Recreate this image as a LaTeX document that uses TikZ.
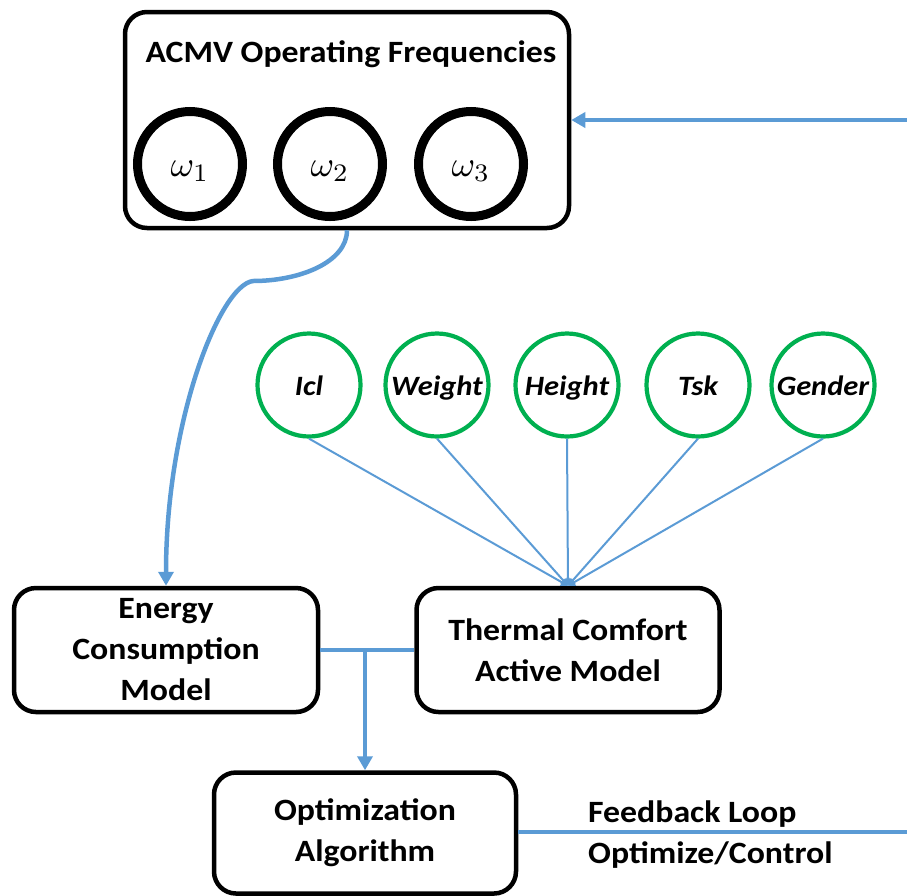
\documentclass[tikz,border=0pt]{standalone}
\usepackage[no-math]{fontspec}
\setmainfont{Carlito}[FakeStretch=1.09]
\usetikzlibrary{arrows.meta}
\definecolor{lblue}{HTML}{5B9BD5}
\definecolor{cgreen}{HTML}{00B050}
\newcommand{\wsym}[1]{\scalebox{3.6}{$\omega_{#1}$}}
\begin{document}
\begin{tikzpicture}[x=1pt,y=-1pt,
  box/.style={draw=black, line width=4.5pt, rounded corners=22pt, inner sep=0pt, align=center,
    font=\fontsize{31}{41}\selectfont\bfseries},
  wcirc/.style={draw=black, circle, line width=9pt, minimum size=105pt, inner sep=0pt},
  gcirc/.style={draw=cgreen, circle, line width=4.2pt, minimum size=103pt, inner sep=0pt,
    font=\fontsize{28}{34}\selectfont\bfseries\itshape, text height=20pt, text depth=-4pt},
  wlab/.style={yshift=-7pt},
  lbl/.style={font=\fontsize{31}{41}\selectfont\bfseries, inner sep=0pt},
  thickblue/.style={draw=lblue, line width=4.5pt},
  fan/.style={draw=lblue, line width=2pt, -{Triangle[length=7pt,width=8pt]}},
  bigtip/.style={-{Triangle[length=14pt,width=15pt]}},
]
\useasboundingbox (0,0) rectangle (907,895);

% top box
\node[box, minimum width=444pt, minimum height=216pt] (A) at (347,120) {};
\node[lbl, anchor=base] (title) at (351,62) {ACMV Operating Frequencies};
\node[wcirc, label={[wlab]center:\wsym{1}}] (w1) at (190,164) {};
\node[wcirc, label={[wlab]center:\wsym{2}}] (w2) at (330,164) {};
\node[wcirc, label={[wlab]center:\wsym{3}}] (w3) at (471,164) {};

% green parameter circles
\node[gcirc] (g1) at (309,385) {Icl};
\node[gcirc] (g2) at (437,385) {Weight};
\node[gcirc] (g3) at (567,385) {Height};
\node[gcirc] (g4) at (698,385) {Tsk};
\node[gcirc] (g5) at (823,385) {Gender};

% model boxes
\node[box, minimum width=304pt, minimum height=124pt] (E) at (166,650) {Energy\\Consumption\\Model};
\node[box, minimum width=303pt, minimum height=124pt] (T) at (568,650) {Thermal Comfort\\Active Model};
\node[box, minimum width=302pt, minimum height=121pt] (O) at (365,833) {Optimization\\Algorithm};

% feedback labels
\node[lbl, anchor=base west] (fb1) at (588,822) {Feedback Loop};
\node[lbl, anchor=base west] (fb2) at (588,863) {Optimize/Control};

% connectors
\coordinate (TR) at (907,120);
\coordinate (FR) at (907,832);
\draw[thickblue, bigtip] (TR) -- (A.east);
\draw[thickblue, bigtip] (A.south) .. controls (347,262) and (300,281) .. (253,281)
   .. controls (220,285) and (166,420) .. (E.north);
\foreach \g in {g1,g2,g3,g4,g5} \draw[fan] (\g.south) -- (T.north);
\draw[thickblue] (E.east) -- (T.west);
\coordinate (J) at (E.east -| O.north);
\draw[thickblue, bigtip] (J) -- (O.north);
\draw[thickblue] (O.east |- FR) -- (FR);
\end{tikzpicture}
\end{document}
